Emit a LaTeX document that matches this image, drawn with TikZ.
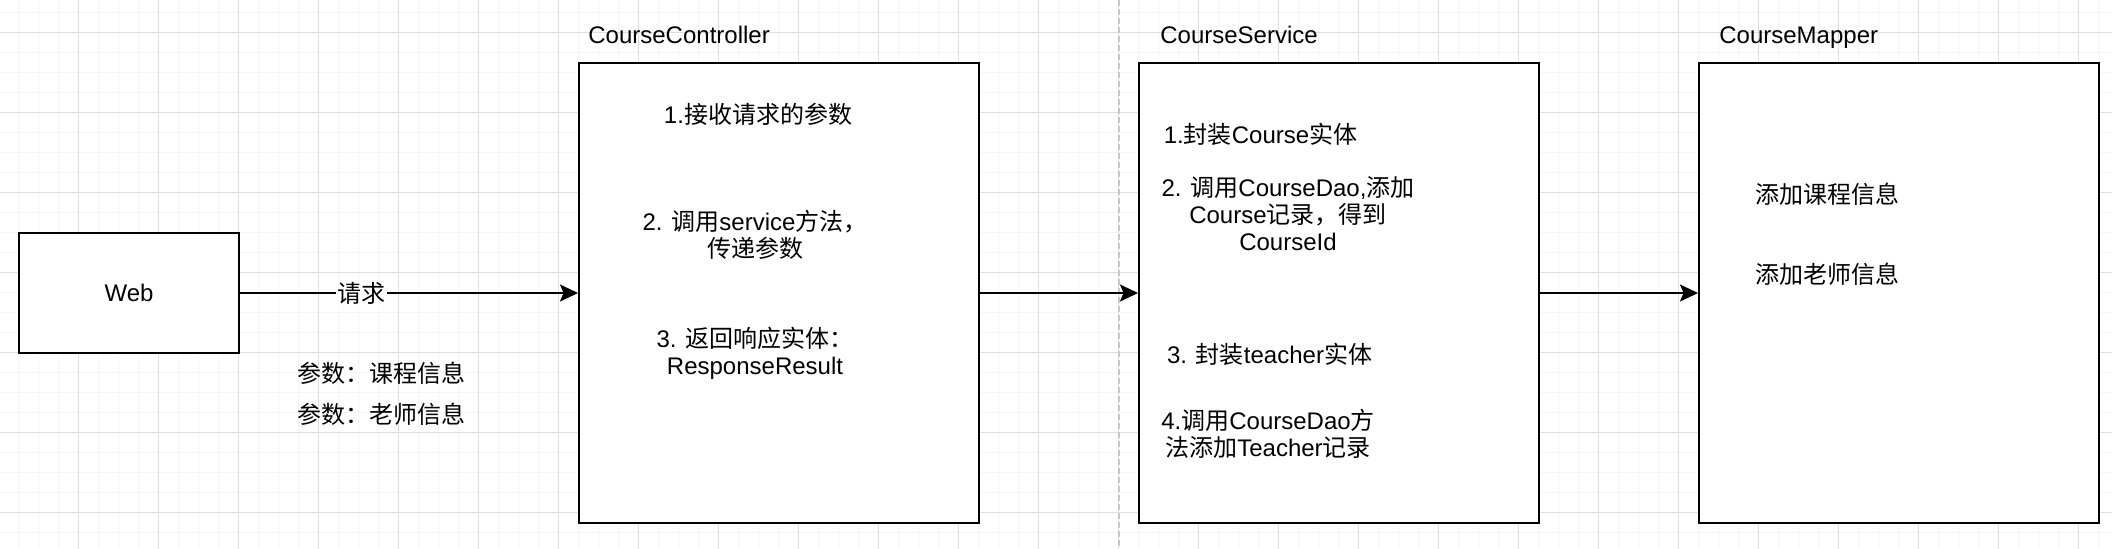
\documentclass[tikz,border=0pt]{standalone}
\usepackage{fontspec}
\setmainfont{Liberation Sans}
\newfontfamily\zh{Noto Sans CJK SC}
\usetikzlibrary{arrows.meta, positioning}

\begin{document}
\begin{tikzpicture}[
    font=\fontsize{13.66pt}{15.4pt}\selectfont,
    every node/.style={align=center},
    box/.style={rectangle, draw, line width=0.04cm, fill=white,
                minimum width=4.4cm, minimum height=2.4cm, inner sep=0pt},
    layer/.style={rectangle, draw, line width=0.04cm, fill=white,
                  minimum width=8cm, minimum height=9.2cm, inner sep=0pt},
    title/.style={anchor=base west, inner sep=0pt},
    note/.style={inner sep=0pt},
    arr/.style={-{Stealth[length=0.36cm, width=0.34cm, inset=0.07cm]},
                line width=0.04cm},
    gridminor/.style={draw=black!4, line width=0.03cm, step=0.4cm},
    gridmajor/.style={draw=black!13, line width=0.02cm, step=1.6cm},
    divider/.style={draw=black!22, line width=0.04cm,
                    dash pattern=on 0.12cm off 0.06cm}
  ]

  \useasboundingbox (0,0) rectangle (42.24,-10.96);

  % background grid
  \begin{scope}
    \clip (0,0) rectangle (42.24,-10.96);
    \fill[white] (0,0) rectangle (42.24,-10.96);
    \draw[gridminor, shift={(0.366,-0.246)}] (-1,-12) grid (43,1);
    \draw[gridmajor, shift={(1.566,-0.646)}] (-2,-12) grid (43,1);
  \end{scope}

  \draw[divider] (22.38,0) -- (22.38,-10.96);

  % layers
  \node[box]   (web)    at (2.58,-5.86)  {Web};
  \node[layer] (ctrl)   at (15.58,-5.86) {};
  \node[layer] (svc)    at (26.78,-5.86) {};
  \node[layer] (mapper) at (37.98,-5.86) {};

  \node[title] (ctrlname)   at (11.76,-0.86) {CourseController};
  \node[title] (svcname)    at (23.20,-0.86) {CourseService};
  \node[title] (mappername) at (34.38,-0.86) {CourseMapper};

  % what travels with the request
  \node[note] (arg1) at (7.63,-7.46) {{\zh 参数：课程信息}};
  \node[note] (arg2) at (7.63,-8.28) {{\zh 参数：老师信息}};

  % controller steps
  \node[note] (ctrl1) at (15.16,-2.28) {1.{\zh 接收请求的参数}};
  \node[note] (ctrl2) at (15.10,-4.69) {2. {\zh 调用}service{\zh 方法，}\\{\zh 传递参数}};
  \node[note] (ctrl3) at (15.10,-7.07) {3. {\zh 返回响应实体：}\\ResponseResult};

  % service steps
  \node[note] (svc1) at (25.21,-2.68) {1.{\zh 封装}Course{\zh 实体}};
  \node[note] (svc2) at (25.76,-4.28) {2. {\zh 调用}CourseDao,{\zh 添加}\\Course{\zh 记录，得到}\\CourseId};
  \node[note] (svc3) at (25.39,-7.08) {3. {\zh 封装}teacher{\zh 实体}};
  \node[note] (svc4) at (25.36,-8.68) {4.{\zh 调用}CourseDao{\zh 方}\\{\zh 法添加}Teacher{\zh 记录}};

  % mapper steps
  \node[note] (map1) at (36.55,-3.88) {{\zh 添加课程信息}};
  \node[note] (map2) at (36.55,-5.48) {{\zh 添加老师信息}};

  % call chain
  \draw[arr] (web)  -- node[pos=0.36, fill=white, inner sep=1pt] (req) {{\zh 请求}} (ctrl);
  \draw[arr] (ctrl) -- (svc);
  \draw[arr] (svc)  -- (mapper);

\end{tikzpicture}
\end{document}
